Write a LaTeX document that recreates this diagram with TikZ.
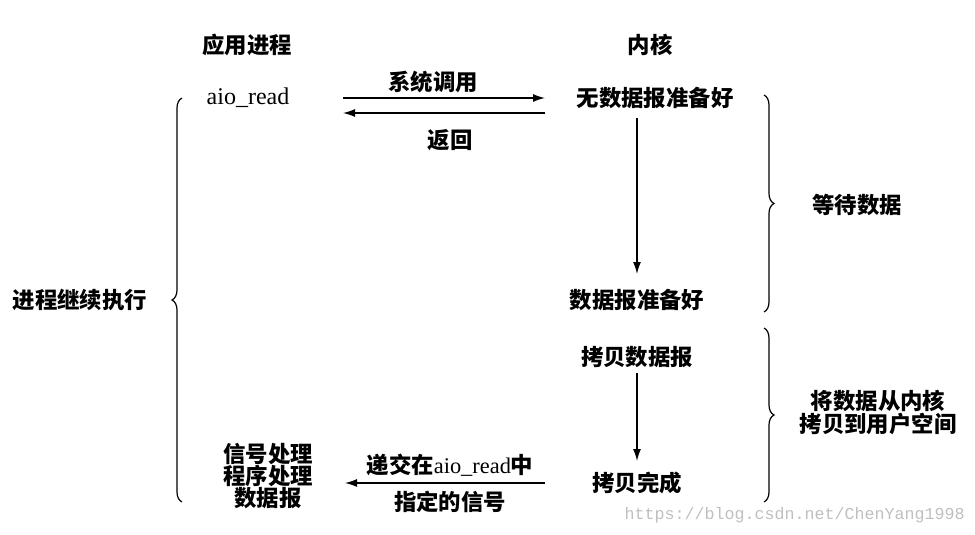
\documentclass[tikz,border=0pt]{standalone}
\usepackage{fontspec}
\setmainfont{Liberation Serif}
\newfontfamily\cjk{Noto Sans CJK SC}
\newfontfamily\urlfont{Liberation Mono}
\usetikzlibrary{arrows.meta,decorations.pathreplacing}
\begin{document}
\begin{tikzpicture}[x=0.75pt,y=-0.75pt,
  lbl/.style={font=\cjk\bfseries\fontsize{16.8}{16.5}\selectfont, inner sep=0pt, align=center},
  lbltwo/.style={lbl, font=\cjk\bfseries\fontsize{16.8}{17.25}\selectfont},
  code/.style={font=\fontsize{18}{20}\selectfont, inner sep=0pt},
  arr/.style={draw, line width=1pt, -{Latex[length=9pt,width=6pt]}},
  brc/.style={draw, line width=0.9pt, decorate, decoration={brace, amplitude=7.5pt}},
  wm/.style={font=\urlfont\fontsize{12.5}{14}\selectfont, text=black!25, inner sep=0pt}
]
\useasboundingbox (0,0) rectangle (975,535);

% titles
\node[lbl] (app) at (247,45) {应用进程};
\node[lbl] (kern) at (650,45) {内核};

% process side
\node[code] (aio) at (248,98) {aio\_read};
\node[lbl] (sig) at (268,476) {信号处理\\程序处理\\数据报};
\node[lbl] (cont) at (80,300) {进程继续执行};

% kernel side
\node[lbl] (nodata) at (655,98) {无数据报准备好};
\node[lbl] (ready) at (637,300) {数据报准备好};
\node[lbl] (copy) at (637,357) {拷贝数据报};
\node[lbl] (done) at (637,483) {拷贝完成};

% right labels
\node[lbl] (wait) at (857,205) {等待数据};
\node[lbltwo] (cpy2) at (878,412) {将数据从内核\\拷贝到用户空间};

% arrow labels
\node[lbl] (syscall) at (433,82) {系统调用};
\node[lbl] (ret) at (450,140) {返回};
\node[lbl] (deliver) at (450,465) {递交在{\rmfamily\mdseries aio\_read}中};
\node[lbl] (spec) at (450,502) {指定的信号};

% arrow endpoints
\coordinate (s1) at (343,98);
\coordinate (e1) at (545,98);
\coordinate (s2) at (545,113);
\coordinate (e2) at (343,113);
\coordinate (s3) at (637,118);
\coordinate (e3) at (637,274);
\coordinate (s4) at (637,373);
\coordinate (e4) at (637,461);
\coordinate (s5) at (545,483);
\coordinate (e5) at (345,483);

\draw[arr] (s1) -- (e1);
\draw[arr] (s2) -- (e2);
\draw[arr] (s3) -- (e3);
\draw[arr] (s4) -- (e4);
\draw[arr] (s5) -- (e5);

% braces
\coordinate (lb1) at (182,502);
\coordinate (lb2) at (182,98);
\coordinate (rb1) at (764,95);
\coordinate (rb2) at (764,312);
\coordinate (rc1) at (764,328);
\coordinate (rc2) at (764,502);
\draw[brc] (lb1) -- (lb2);
\draw[brc] (rb1) -- (rb2);
\draw[brc] (rc1) -- (rc2);

% url
\node[wm, anchor=east] (url) at (965,515) {https://blog.csdn.net/ChenYang1998};
\end{tikzpicture}
\end{document}
